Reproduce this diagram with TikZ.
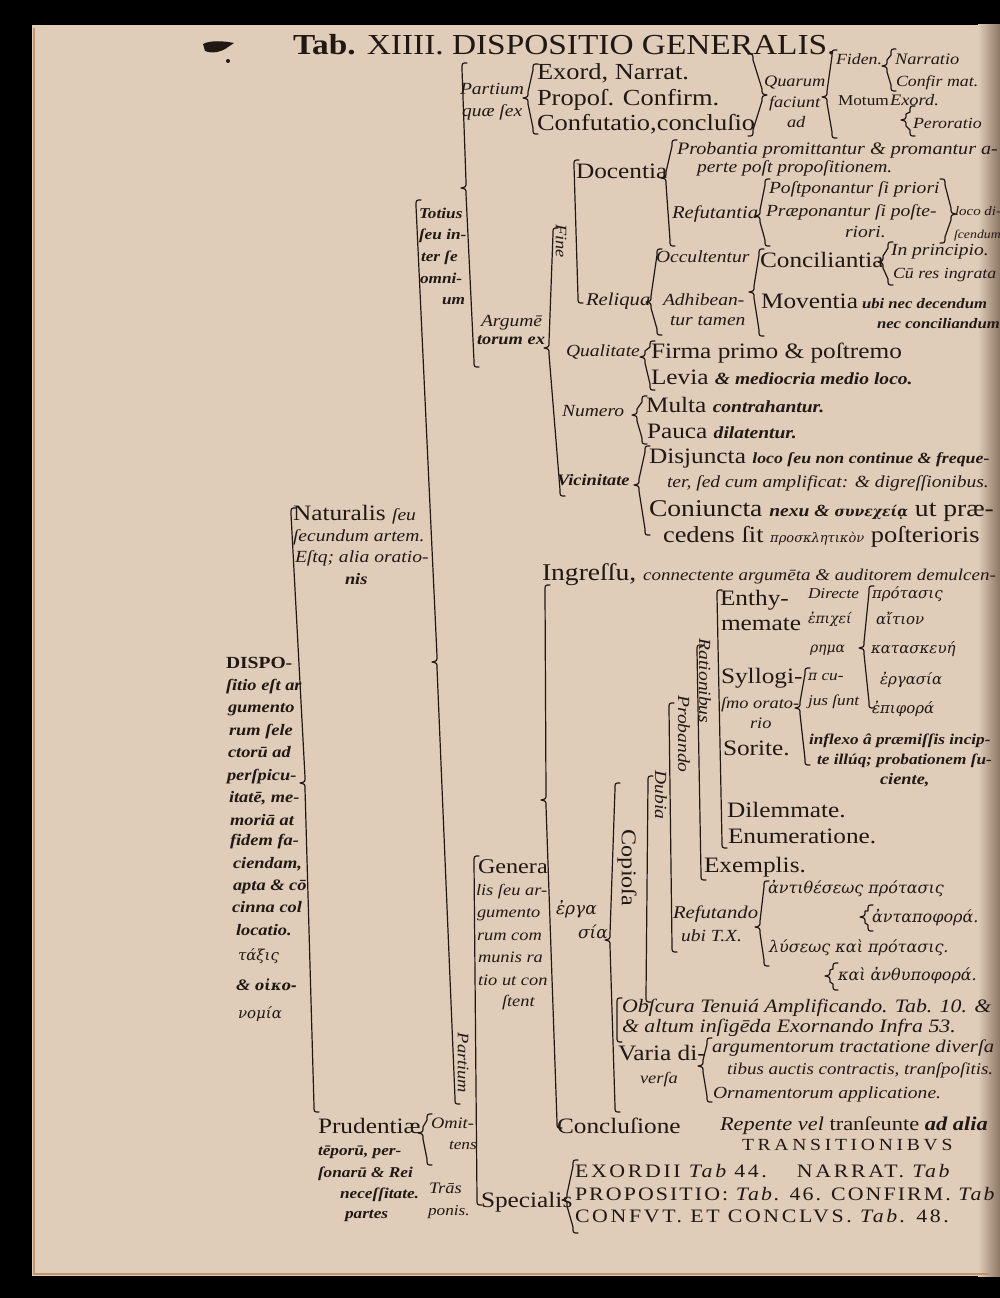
\documentclass[tikz,border=0pt]{standalone}
\usepackage{fontspec}
\setmainfont{Liberation Serif}[FakeStretch=1.15]
\newfontfamily\gk{DejaVu Serif}
\definecolor{ink}{RGB}{34,24,19}
\definecolor{paper}{RGB}{223,204,185}
\definecolor{gutter}{RGB}{140,118,100}
\definecolor{edge}{RGB}{196,148,104}
\newcommand\fs[1]{\fontsize{#1}{#1}\selectfont}
\newcommand\bi{\bfseries\itshape}
\newcommand\G[1]{{\gk\itshape #1}}
% brace with tip pointing left: xt yt xm ym xb yb
\newcommand\brc[6]{\draw[brk] (#1+5,#2) .. controls (#1,#2) .. (#1,#2+6) -- (#3,#4-6) .. controls (#3,#4-1) .. (#3-5,#4) .. controls (#3,#4+1) .. (#3,#4+6) -- (#5,#6-6) .. controls (#5,#6) .. (#5+5,#6);}
% brace with tip pointing right
\newcommand\brcR[6]{\draw[brk] (#1-5,#2) .. controls (#1,#2) .. (#1,#2+6) -- (#3,#4-6) .. controls (#3,#4-1) .. (#3+5,#4) .. controls (#3,#4+1) .. (#3,#4+6) -- (#5,#6-6) .. controls (#5,#6) .. (#5-5,#6);}
% bracket without tip
\newcommand\prn[4]{\draw[brk] (#1+5,#2) .. controls (#1,#2) .. (#1,#2+6) -- (#3,#4-6) .. controls (#3,#4) .. (#3+5,#4);}
\tikzset{
  brk/.style={draw=ink, line width=1.2pt, line cap=round, line join=round},
  t/.style={anchor=base west, inner sep=0pt, outer sep=0pt, text=ink},
  rot/.style={rotate=-90, anchor=center, inner sep=0pt, text=ink}
}
\begin{document}
\begin{tikzpicture}[x=1pt,y=-1pt]
\useasboundingbox (0,0) rectangle (1000,1298);
\fill[black] (0,0) rectangle (1000,1298);
\fill[paper] (32,25) rectangle (1000,1276);
\shade[left color=paper, right color=gutter] (978,25) rectangle (1000,1276);
\draw[edge, line width=2.5pt] (34,28) -- (34,1274) -- (990,1274);
\begin{scope}
\clip (32,25) rectangle (1000,1276);
% ink blot
\fill[ink] (203,44) .. controls (210,40) and (225,41) .. (234,43) -- (228,47) .. controls (222,52) and (212,54) .. (205,51) -- cycle;
\fill[ink] (228,61) circle (2);
% header
\node[t,font=\fs{29}] (hdr) at (293,55) {\textbf{Tab.} XIIII. DISPOSITIO GENERALIS.};
% top block
\node[t,font=\fs{17}\itshape] (part1) at (460,95) {Partium};
\node[t,font=\fs{17}\itshape] (part2) at (462,116) {quæ ſex};
\node[t,font=\fs{23}] (ex1) at (537,80) {Exord, Narrat.};
\node[t,font=\fs{23}] (ex2) at (537,105) {Propoſ. Confirm.};
\node[t,font=\fs{23}] (ex3) at (537,130) {Confutatio,concluſio};
\node[t,font=\fs{16}\itshape] (qu1) at (764,86) {Quarum};
\node[t,font=\fs{16}\itshape] (qu2) at (769,107) {faciunt};
\node[t,font=\fs{16}\itshape] (qu3) at (787,127) {ad};
\node[t,font=\fs{15.5}\itshape] (fid) at (836,65) {Fiden.};
\node[t,font=\fs{16}\itshape] (nar) at (895,65) {Narratio};
\node[t,font=\fs{15.5}\itshape] (conf) at (896,86) {Confir mat.};
\node[t,font=\fs{15}] (mot) at (838,105) {Motum};
\node[t,font=\fs{16}\itshape] (exo) at (890,105) {Exord.};
\node[t,font=\fs{15.5}\itshape] (per) at (913,128) {Peroratio};
% Docentia block
\node[t,font=\fs{17.5}\itshape] (prob) at (677,154) {Probantia promittantur \& promantur a-};
\node[t,font=\fs{17}\itshape] (perte) at (697,172) {perte poſt propoſitionem.};
\node[t,font=\fs{22}] (doc) at (576,178) {Docentia};
\node[t,font=\fs{17}\itshape] (post) at (769,193) {Poſtponantur ſi priori};
\node[t,font=\fs{18}\itshape] (refu) at (672,218) {Refutantia};
\node[t,font=\fs{17}\itshape] (prae) at (766,216) {Præponantur ſi poſte-};
\node[t,font=\fs{17}\itshape] (rior) at (845,237) {riori.};
\node[t,font=\fs{13}\itshape] (loco) at (955,215) {loco di-};
\node[t,font=\fs{12}\itshape] (scen) at (954,238) {ſcendum};
\node[t,font=\fs{17}\itshape] (occ) at (656,262) {Occultentur};
\node[t,font=\fs{22}] (conc) at (760,267) {Conciliantia};
\node[t,font=\fs{17}\itshape] (inpr) at (891,255) {In principio.};
\node[t,font=\fs{15.5}\itshape] (cures) at (893,278) {Cū res ingrata};
\node[t,font=\fs{18}\itshape] (rel) at (586,305) {Reliqua};
\node[t,font=\fs{17}\itshape] (adh) at (663,305) {Adhibean-};
\node[t,font=\fs{17}\itshape] (tam) at (670,325) {tur tamen};
\node[t,font=\fs{22}] (mov) at (761,308) {Moventia};
\node[t,font=\fs{14.5}\bi] (ubi) at (862,308) {ubi nec decendum};
\node[t,font=\fs{14.5}\bi] (necc) at (877,328) {nec conciliandum};
\node[rot,font=\fs{16}\itshape] (fine) at (561,241) {Fine};
% Totius, Argumentorum
\node[t,font=\fs{15}\bi] (tot1) at (419,218) {Totius};
\node[t,font=\fs{15}\bi] (tot2) at (419,239) {ſeu in-};
\node[t,font=\fs{15}\bi] (tot3) at (421,261) {ter ſe};
\node[t,font=\fs{15}\bi] (tot4) at (420,283) {omni-};
\node[t,font=\fs{15}\bi] (tot5) at (442,304) {um};
\node[t,font=\fs{17}\itshape] (arg1) at (481,326) {Argumē};
\node[t,font=\fs{16}\bi] (arg2) at (477,344) {torum ex};
% Qualitate etc
\node[t,font=\fs{17}\itshape] (qual) at (566,356) {Qualitate};
\node[t,font=\fs{22}] (firma) at (651,358) {Firma primo \& poſtremo};
\node[t,font=\fs{22}] (levia) at (651,384) {Levia {\fs{17}\bi \& mediocria medio loco.}};
\node[t,font=\fs{17}\itshape] (num) at (562,416) {Numero};
\node[t,font=\fs{22}] (multa) at (646,412) {Multa {\fs{17}\bi contrahantur.}};
\node[t,font=\fs{22}] (pauca) at (647,438) {Pauca {\fs{17}\bi dilatentur.}};
\node[t,font=\fs{16}\bi] (vic) at (557,485) {Vicinitate};
\node[t,font=\fs{22}] (disj) at (649,463) {Disjuncta {\fs{15.5}\bi loco ſeu non continue \& freque-}};
\node[t,font=\fs{17}\itshape] (ter) at (667,487) {ter, ſed cum amplificat: \& digreſſionibus.};
\node[t,font=\fs{24}] (coni) at (649,516) {Coniuncta {\fs{17}\bi nexu \& \G{\fs{14}συνεχείᾳ}} ut præ-};
\node[t,font=\fs{23}] (ced) at (663,542) {cedens ſit {\G{\fs{13}προσκλητικὸν}} poſterioris};
% Naturalis
\node[t,font=\fs{22}] (nat1) at (293,520) {Naturalis {\fs{17}\itshape ſeu}};
\node[t,font=\fs{17}\itshape] (nat2) at (293,541) {ſecundum artem.};
\node[t,font=\fs{17}\itshape] (nat3) at (295,562) {Eſtq; alia oratio-};
\node[t,font=\fs{16}\bi] (nat4) at (345,584) {nis};
% Ingressu
\node[t,font=\fs{24}] (ingr) at (542,580) {Ingreſſu, {\fs{16.5}\itshape connectente argumēta \& auditorem demulcen-}};
% Enthymemate block
\node[t,font=\fs{22}] (en1) at (720,605) {Enthy-};
\node[t,font=\fs{22}] (en2) at (721,630) {memate};
\node[t,font=\fs{15}\itshape] (dir1) at (808,598) {Directe};
\node[t,font=\fs{14}] (dir2) at (808,623) {\G{ἐπιχεί}};
\node[t,font=\fs{14}] (dir3) at (810,652) {\G{ρημα}};
\node[t,font=\fs{15}\itshape] (dir4) at (808,680) {\G{\fs{14}π} cu-};
\node[t,font=\fs{15}\itshape] (dir5) at (808,705) {jus ſunt};
\node[t,font=\fs{15}] (gk1) at (872,598) {\G{πρότασις}};
\node[t,font=\fs{15}] (gk2) at (876,624) {\G{αἴτιον}};
\node[t,font=\fs{15}] (gk3) at (871,653) {\G{κατασκευή}};
\node[t,font=\fs{15}] (gk4) at (880,684) {\G{ἐργασία}};
\node[t,font=\fs{15}] (gk5) at (872,713) {\G{ἐπιφορά}};
\node[t,font=\fs{22}] (syl1) at (721,683) {Syllogi-};
\node[t,font=\fs{16}\itshape] (syl2) at (721,708) {ſmo orato-};
\node[t,font=\fs{16}\itshape] (syl3) at (750,728) {rio};
\node[t,font=\fs{22}] (sor) at (723,755) {Sorite.};
\node[t,font=\fs{15}\bi] (infl) at (809,744) {inflexo â præmiſſis incip-};
\node[t,font=\fs{15}\bi] (ill) at (817,764) {te illúq; probationem ſu-};
\node[t,font=\fs{16}\bi] (cie) at (880,784) {ciente,};
\node[t,font=\fs{22}] (dil) at (727,817) {Dilemmate.};
\node[t,font=\fs{22}] (enu) at (728,843) {Enumeratione.};
\node[t,font=\fs{22}] (exe) at (704,872) {Exemplis.};
\node[rot,font=\fs{17}\itshape] (ratio) at (705,681) {Rationibus};
\node[rot,font=\fs{17}\itshape] (proba) at (684,734) {Probando};
\node[rot,font=\fs{17}\itshape] (dub) at (661,795) {Dubia};
\node[rot,font=\fs{21}] (copi) at (627,868) {Copioſa};
% Refutando
\node[t,font=\fs{18}\itshape] (ref1) at (673,918) {Refutando};
\node[t,font=\fs{17}\itshape] (ref2) at (681,941) {ubi T.X.};
\node[t,font=\fs{16}] (g1) at (768,893) {\G{ἀντιθέσεως πρότασις}};
\node[t,font=\fs{16}] (g2) at (872,922) {\G{ἀνταποφορά.}};
\node[t,font=\fs{16}] (g3) at (769,952) {\G{λύσεως καὶ πρότασις.}};
\node[t,font=\fs{16}] (g4) at (838,980) {\G{καὶ ἀνθυποφορά.}};
% DISPOSITIO column
\node[t,font=\fs{17}\bfseries] (d1) at (226,668) {DISPO-};
\node[t,font=\fs{16}\bi] (d2) at (226,690) {ſitio eſt ar};
\node[t,font=\fs{16}\bi] (d3) at (228,712) {gumento};
\node[t,font=\fs{16}\bi] (d4) at (229,735) {rum ſele};
\node[t,font=\fs{16}\bi] (d5) at (228,757) {ctorū ad};
\node[t,font=\fs{16}\bi] (d6) at (227,780) {perſpicu-};
\node[t,font=\fs{16}\bi] (d7) at (229,802) {itatē, me-};
\node[t,font=\fs{16}\bi] (d8) at (230,825) {moriā at};
\node[t,font=\fs{16}\bi] (d9) at (230,845) {fidem fa-};
\node[t,font=\fs{16}\bi] (d10) at (233,868) {ciendam,};
\node[t,font=\fs{16}\bi] (d11) at (233,890) {apta \& cō};
\node[t,font=\fs{16}\bi] (d12) at (232,912) {cinna col};
\node[t,font=\fs{16}\bi] (d13) at (236,935) {locatio.};
\node[t,font=\fs{15}] (d14) at (238,960) {\G{τάξις}};
\node[t,font=\fs{16}\bi] (d15) at (236,990) {\& \G{\fs{14}οἰκο-}};
\node[t,font=\fs{15}] (d16) at (238,1018) {\G{νομία}};
% Genera
\node[t,font=\fs{21}] (gen1) at (478,873) {Genera};
\node[t,font=\fs{16}\itshape] (gen2) at (476,895) {lis ſeu ar-};
\node[t,font=\fs{16}\itshape] (gen3) at (477,917) {gumento};
\node[t,font=\fs{16}\itshape] (gen4) at (477,940) {rum com};
\node[t,font=\fs{16}\itshape] (gen5) at (478,962) {munis ra};
\node[t,font=\fs{16}\itshape] (gen6) at (478,985) {tio ut con};
\node[t,font=\fs{16}\itshape] (gen7) at (502,1006) {ſtent};
\node[t,font=\fs{17}] (erg1) at (556,914) {\G{ἐργα}};
\node[t,font=\fs{17}] (erg2) at (578,938) {\G{σία}};
\node[rot,font=\fs{16}\itshape] (parti) at (463,1063) {Partium};
% lower block
\node[t,font=\fs{19}\itshape] (obs) at (622,1012) {Obſcura Tenuiá Amplificando. Tab. 10. \&};
\node[t,font=\fs{19}\itshape] (alt) at (622,1032) {\& altum inſigēda Exornando Infra 53.};
\node[t,font=\fs{22}] (var1) at (618,1060) {Varia di-};
\node[t,font=\fs{16}\itshape] (var2) at (640,1083) {verſa};
\node[t,font=\fs{18}\itshape] (argt) at (712,1052) {argumentorum tractatione diverſa};
\node[t,font=\fs{16.5}\itshape] (tib) at (727,1074) {tibus auctis contractis, tranſpoſitis.};
\node[t,font=\fs{17}\itshape] (orn) at (713,1098) {Ornamentorum applicatione.};
\node[t,font=\fs{22}] (concl) at (557,1133) {Concluſione};
\node[t,font=\fs{19.5}] (rep) at (720,1130) {{\itshape Repente vel} tranſeunte {\bi ad alia}};
\node[t,font=\fs{17}\addfontfeature{LetterSpace=22}] (trans) at (742,1150) {TRANSITIONIBVS};
\node[t,font=\fs{22}] (spec) at (481,1207) {Specialis};
\node[t,font=\fs{19}\addfontfeature{LetterSpace=14}] (sp1) at (575,1177) {EXORDII {\itshape Tab} 44.\hspace{30pt}NARRAT. {\itshape Tab}};
\node[t,font=\fs{19}\addfontfeature{LetterSpace=11}] (sp2) at (575,1200) {PROPOSITIO: {\itshape Tab.} 46. CONFIRM. {\itshape Tab}};
\node[t,font=\fs{19}\addfontfeature{LetterSpace=14}] (sp3) at (575,1222) {CONFVT. ET CONCLVS. {\itshape Tab.} 48.};
\node[t,font=\fs{22}] (pru1) at (318,1133) {Prudentiæ};
\node[t,font=\fs{15}\bi] (pru2) at (318,1155) {tēporū, per-};
\node[t,font=\fs{15}\bi] (pru3) at (318,1177) {ſonarū \& Rei};
\node[t,font=\fs{15}\bi] (pru4) at (340,1198) {neceſſitate.};
\node[t,font=\fs{15}\bi] (pru5) at (345,1218) {partes};
\node[t,font=\fs{16}\itshape] (om1) at (431,1128) {Omit-};
\node[t,font=\fs{15}\itshape] (om2) at (449,1149) {tens};
\node[t,font=\fs{16}\itshape] (tr1) at (429,1193) {Trās};
\node[t,font=\fs{15}\itshape] (tr2) at (428,1215) {ponis.};
% braces
\brc{291}{508}{305}{783}{314}{1112}
\brc{416}{200}{437}{662}{455}{1104}
\prn{474}{856}{477}{1205}
\brc{462}{63}{466}{188}{474}{367}
\brc{533}{64}{528}{98}{533}{134}
\brcR{753}{54}{762}{95}{753}{136}
\brc{832}{50}{827}{97}{832}{138}
\brc{891}{49}{887}{66}{891}{91}
\brc{910}{106}{906}{120}{910}{136}
\prn{574}{160}{578}{303}
\brc{553}{228}{549}{348}{560}{496}
\brc{672}{140}{666}{178}{670}{246}
\brc{765}{179}{760}{216}{765}{246}
\brcR{945}{179}{951}{214}{945}{243}
\brc{657}{249}{651}{302}{657}{335}
\brc{759}{249}{754}{292}{759}{336}
\brc{888}{242}{883}{262}{888}{285}
\brc{650}{341}{645}{357}{650}{390}
\brc{642}{396}{637}{415}{642}{444}
\brc{645}{446}{639}{485}{645}{535}
\brc{545}{585}{546}{800}{557}{1128}
\prn{717}{590}{722}{848}
\brc{805}{668}{800}{708}{805}{765}
\brc{869}{586}{864}{648}{869}{708}
\prn{697}{645}{701}{880}
\prn{669}{703}{672}{952}
\prn{648}{776}{646}{1002}
\brc{615}{783}{610}{940}{615}{1112}
\prn{617}{998}{617}{1042}
\brc{707}{1038}{703}{1066}{707}{1102}
\brc{764}{881}{760}{927}{764}{966}
\brc{868}{905}{865}{917}{868}{931}
\brc{833}{963}{830}{976}{833}{990}
\brc{427}{1114}{423}{1133}{427}{1165}
\brc{573}{1160}{567}{1200}{573}{1233}
\end{scope}
\end{tikzpicture}
\end{document}
